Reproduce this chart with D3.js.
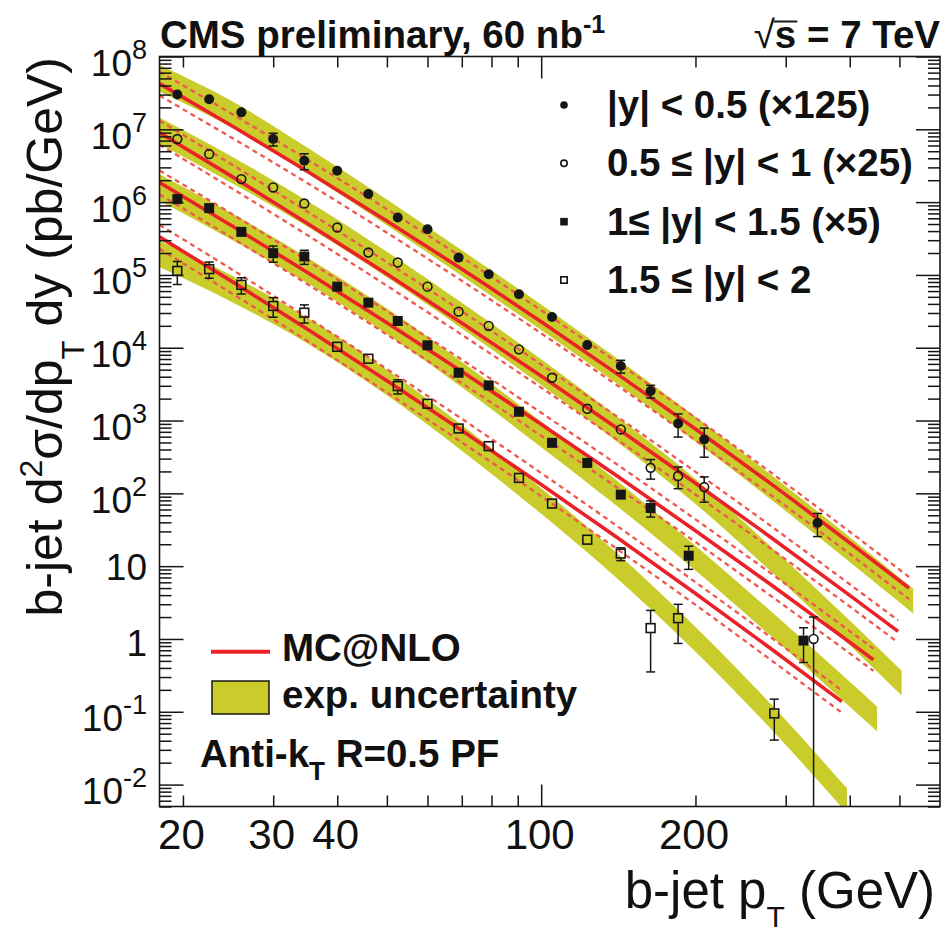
<!DOCTYPE html>
<html><head><meta charset="utf-8">
<script src="https://cdn.jsdelivr.net/npm/d3@7"></script>
<style>
body{margin:0;background:#fff}
svg{display:block}
text{font-family:"Liberation Sans",Arial,Helvetica,sans-serif;fill:#111}
</style>
</head><body>
<svg id="chart" width="945" height="935"></svg>
<script>
// ---------------- data ----------------
// |y| < 0.5 (x125) : filled circles
const pt1  = [19.5, 22.5, 26, 30, 34.5, 40, 46, 52.5, 60, 69, 79, 90.5, 105, 123, 143, 163.5, 185, 208, 346];
const val1 = [3.0e7, 2.58e7, 1.71e7, 7.36e6, 3.7e6, 2.7e6, 1.29e6, 6.14e5, 4.25e5, 1.73e5, 1.02e5, 5.43e4, 2.64e4, 1.09e4, 5.6e3, 2.54e3, 912, 550, 39.2];
const err1 = [0.06, 0.06, 0.08, 0.2, 0.25, 0.08, 0.08, 0.08, 0.08, 0.1, 0.1, 0.1, 0.1, 0.12, 0.2, 0.2, 0.35, 0.43, 0.35];
// 0.5 <= |y| < 1 (x25) : open circles
const pt2  = [19.5, 22.5, 26, 30, 34.5, 40, 46, 52.5, 60, 69, 79, 90.5, 105, 123, 143, 163.5, 185, 208, 340];
const val2 = [7.36e6, 4.57e6, 2.07e6, 1.59e6, 9.57e5, 4.48e5, 2.03e5, 1.48e5, 6.9e4, 3.13e4, 1.99e4, 9.5e3, 3.87e3, 1.45e3, 755, 224, 173, 122, 1.0];
const err2 = [0.06, 0.06, 0.12, 0.15, 0.08, 0.08, 0.08, 0.08, 0.08, 0.1, 0.1, 0.1, 0.1, 0.12, 0.12, 0.3, 0.33, 0.38, 1.0];
// 1 <= |y| < 1.5 (x5) : filled squares
const pt3  = [19.5, 22.5, 26, 30, 34.5, 40, 46, 52.5, 60, 69, 79, 90.5, 105, 123, 143, 163.5, 194, 325];
const val3 = [1.10e6, 8.27e5, 3.9e5, 1.99e5, 1.79e5, 6.9e4, 4.16e4, 2.33e4, 1.08e4, 4.53e3, 3.04e3, 1.32e3, 494, 262, 96, 63, 13.9, 0.95];
const err3 = [0.08, 0.1, 0.15, 0.25, 0.22, 0.08, 0.08, 0.08, 0.08, 0.1, 0.1, 0.1, 0.1, 0.1, 0.15, 0.25, 0.35, 0.5];
// 1.5 <= |y| < 2 : open squares
const pt4  = [19.5, 22.5, 26, 30, 34.5, 40, 46, 52.5, 60, 69, 79, 90.5, 105, 123, 143, 163.5, 185, 285];
const val4 = [1.135e5, 1.2e5, 7.3e4, 3.75e4, 3.03e4, 1.03e4, 7.06e3, 2.97e3, 1.70e3, 778, 445, 163, 72.4, 23.1, 14.9, 1.41, 1.93, 0.095];
const err4 = [0.35, 0.25, 0.25, 0.3, 0.28, 0.08, 0.1, 0.22, 0.1, 0.1, 0.12, 0.1, 0.1, 0.15, 0.2, 0.75, 0.55, 0.57];

// MC@NLO prediction (solid red), per rapidity bin
const mcPt1 = [18, 25, 35, 50, 70, 100, 140, 200, 280, 400, 522];
const mc1   = [4.24e7, 1.10e7, 2.64e6, 5.52e5, 1.205e5, 2.27e4, 4.48e3, 764, 137, 20.9, 5.0];
const mcPt2 = [18, 25, 35, 50, 70, 100, 140, 200, 280, 400, 497];
const mc2   = [8.97e6, 2.22e6, 5.09e5, 1.03e5, 2.19e4, 4.08e3, 805, 138, 25.2, 3.97, 1.27];
const mcPt3 = [18, 25, 35, 50, 70, 100, 140, 200, 280, 400, 445];
const mc3   = [1.86e6, 4.65e5, 1.08e5, 2.20e4, 4.73e3, 889, 177, 30.7, 5.65, 0.90, 0.518];
const mcPt4 = [18, 25, 35, 50, 70, 100, 140, 200, 280, 386];
const mc4   = [3.33e5, 8.02e4, 1.79e4, 3.52e3, 728, 132, 25.3, 4.21, 0.745, 0.138];
// MC@NLO uncertainty (dashed red), relative
const mcUnc = [0.46, 0.46, 0.45, 0.45, 0.45, 0.44, 0.44, 0.43, 0.43, 0.42, 0.42];

// experimental uncertainty band (centre + relative width)
const bandPt1 = [18, 25, 35, 50, 70, 100, 140, 200, 280, 400, 532];
const band1   = [5.01e7, 1.585e7, 3.72e6, 7.24e5, 1.45e5, 2.62e4, 4.88e3, 764, 124, 16.9, 3.32];
const bandPt2 = [18, 25, 35, 50, 70, 100, 140, 200, 280, 400, 505];
const band2   = [9.55e6, 2.74e6, 6.90e5, 1.39e5, 2.76e4, 4.63e3, 780, 106, 12.7, 1.21, 0.248];
const bandPt3 = [18, 25, 35, 50, 70, 100, 140, 200, 280, 400, 452];
const band3   = [1.585e6, 4.55e5, 1.15e5, 2.30e4, 4.29e3, 647, 102, 12.9, 1.65, 0.174, 0.080];
const bandPt4 = [18, 25, 35, 50, 70, 100, 140, 200, 280, 395];
const band4   = [1.95e5, 6.38e4, 1.72e4, 3.33e3, 578, 78.5, 10.4, 0.99, 0.0877, 0.0060];
const expUnc  = [0.52, 0.52, 0.50, 0.50, 0.50, 0.50, 0.49, 0.48, 0.48, 0.48, 0.48];

const legendLabels = ["|y| < 0.5 (\u00d7125)", "0.5 \u2264 |y| < 1 (\u00d725)", "1\u2264 |y| < 1.5 (\u00d75)", "1.5 \u2264 |y| < 2"];
const xTickLabels = [20, 30, 40, 100, 200];
const yDecades = [-2, -1, 0, 1, 2, 3, 4, 5, 6, 7, 8];

// ---------------- layout ----------------
const L = 159.5, R = 940, T = 56.5, B = 806.5;
const BAND = "#c9cc2a", RED = "#ea2228", DASH = "#f0574e", INK = "#161616";

const svg = d3.select("#chart");
const x = d3.scaleLog().domain([18, 600]).range([L, R]);
const y = d3.scaleLog().domain([0.005, 1e8]).range([B, T]);

svg.append("defs").append("clipPath").attr("id", "plotclip")
  .append("rect").attr("x", L).attr("y", T).attr("width", R - L).attr("height", B - T);
const plot = svg.append("g").attr("clip-path", "url(#plotclip)");

const series = [
  {pt: pt1, val: val1, err: err1, mark: "fc", mcPt: mcPt1, mc: mc1, bPt: bandPt1, band: band1},
  {pt: pt2, val: val2, err: err2, mark: "oc", mcPt: mcPt2, mc: mc2, bPt: bandPt2, band: band2},
  {pt: pt3, val: val3, err: err3, mark: "fs", mcPt: mcPt3, mc: mc3, bPt: bandPt3, band: band3},
  {pt: pt4, val: val4, err: err4, mark: "os", mcPt: mcPt4, mc: mc4, bPt: bandPt4, band: band4}
];

const area = d3.area()
  .x(d => x(d.p)).y0(d => y(d.v / (1 + d.u))).y1(d => y(d.v * (1 + d.u)))
  .curve(d3.curveMonotoneX);
const line = d3.line().x(d => x(d.p)).y(d => y(d.v)).curve(d3.curveMonotoneX);

// bands
series.forEach(s => {
  const pts = s.bPt.map((p, i) => ({p, v: s.band[i], u: expUnc[i]}));
  plot.append("path").attr("d", area(pts)).attr("fill", BAND).attr("stroke", "none");
});
// dashed theory uncertainty
series.forEach(s => {
  const up = s.mcPt.map((p, i) => ({p, v: s.mc[i] * (1 + mcUnc[i])}));
  const dn = s.mcPt.map((p, i) => ({p, v: s.mc[i] / (1 + mcUnc[i])}));
  [up, dn].forEach(a => plot.append("path").attr("d", line(a)).attr("fill", "none")
    .attr("stroke", DASH).attr("stroke-width", 2.3).attr("stroke-dasharray", "5,4"));
});
// central MC@NLO
series.forEach(s => {
  const c = s.mcPt.map((p, i) => ({p, v: s.mc[i]}));
  plot.append("path").attr("d", line(c)).attr("fill", "none")
    .attr("stroke", RED).attr("stroke-width", 3.6);
});

// markers
function marker(g, type, cx, cy, r) {
  if (type === "fc") g.append("circle").attr("cx", cx).attr("cy", cy).attr("r", r).attr("fill", INK);
  else if (type === "oc") g.append("circle").attr("cx", cx).attr("cy", cy).attr("r", r - 0.6)
    .attr("fill", "none").attr("stroke", INK).attr("stroke-width", 1.6);
  else if (type === "fs") g.append("rect").attr("x", cx - r).attr("y", cy - r).attr("width", 2 * r).attr("height", 2 * r).attr("fill", INK);
  else g.append("rect").attr("x", cx - r + 0.6).attr("y", cy - r + 0.6).attr("width", 2 * r - 1.2).attr("height", 2 * r - 1.2)
    .attr("fill", "none").attr("stroke", INK).attr("stroke-width", 1.6);
}

const pg = plot.append("g");
series.forEach(s => {
  s.pt.forEach((p, i) => {
    const v = s.val[i], e = s.err[i];
    const cx = x(p), cy = y(v), r = 5;
    const yh = y(v * (1 + e));
    const lo = v * (1 - e);
    const yl = lo > 0 ? y(lo) : B + 10;
    if (yh < cy - r - 0.5) {
      pg.append("line").attr("x1", cx).attr("x2", cx).attr("y1", yh).attr("y2", cy - r).attr("stroke", INK).attr("stroke-width", 1.5);
      pg.append("line").attr("x1", cx - 4.5).attr("x2", cx + 4.5).attr("y1", yh).attr("y2", yh).attr("stroke", INK).attr("stroke-width", 1.5);
    }
    if (yl > cy + r + 0.5) {
      pg.append("line").attr("x1", cx).attr("x2", cx).attr("y1", cy + r).attr("y2", yl).attr("stroke", INK).attr("stroke-width", 1.5);
      if (lo > 0) pg.append("line").attr("x1", cx - 4.5).attr("x2", cx + 4.5).attr("y1", yl).attr("y2", yl).attr("stroke", INK).attr("stroke-width", 1.5);
    }
    marker(pg, s.mark, cx, cy, r);
  });
});

// ---------------- axes ----------------
const xMajor = [100];
const xMinor = [20, 30, 40, 50, 60, 70, 80, 90, 200, 300, 400, 500];
const yMajor = yDecades.map(d => Math.pow(10, d));
const yMinor = [];
for (let d = -3; d <= 7; d++) for (let k = 2; k <= 9; k++) {
  const v = k * Math.pow(10, d);
  if (v >= 0.005 && v <= 1e8) yMinor.push(v);
}
function ax(gen, vals, size, tx, ty) {
  const g = svg.append("g").attr("transform", `translate(${tx},${ty})`)
    .call(gen.tickValues(vals).tickSize(size).tickFormat(""));
  g.select(".domain").remove();
  g.selectAll(".tick line").attr("stroke", INK).attr("stroke-width", 1.5);
}
ax(d3.axisBottom(x), xMinor, -11, 0, B);
ax(d3.axisBottom(x), xMajor, -22, 0, B);
ax(d3.axisTop(x), xMinor, -11, 0, T);
ax(d3.axisTop(x), xMajor, -22, 0, T);
ax(d3.axisLeft(y), yMinor, -12, L, 0);
ax(d3.axisLeft(y), yMajor, -24, L, 0);
ax(d3.axisRight(y), yMinor, -12, R, 0);
ax(d3.axisRight(y), yMajor, -24, R, 0);

svg.append("rect").attr("x", L).attr("y", T).attr("width", R - L).attr("height", B - T)
  .attr("fill", "none").attr("stroke", INK).attr("stroke-width", 1.6);

// x tick labels
svg.append("g").selectAll("text").data(xTickLabels).join("text")
  .attr("x", d => x(d) - 1.5).attr("y", 849).attr("text-anchor", "middle")
  .attr("font-size", 42).text(d => d);

// y tick labels
yDecades.forEach(d => {
  const t = svg.append("text").attr("x", 147).attr("text-anchor", "end").attr("font-size", 37);
  const ty = y(Math.pow(10, d));
  if (d === 0) { t.attr("y", ty + 17).text("1"); }
  else if (d === 1) { t.attr("y", ty + 14).text("10"); }
  else {
    t.attr("y", ty + 19.5);
    t.append("tspan").text("10");
    t.append("tspan").attr("font-size", 27).attr("dy", -17).text(String(d));
  }
});

// axis titles
const xt = svg.append("text").attr("x", 935).attr("y", 908).attr("text-anchor", "end").attr("font-size", 51);
xt.append("tspan").text("b-jet p");
xt.append("tspan").attr("font-size", 30).attr("dy", 19).text("T");
xt.append("tspan").attr("dy", -19).text(" (GeV)");

const yt = svg.append("text").attr("transform", "translate(62,57) rotate(-90)")
  .attr("text-anchor", "end").attr("font-size", 50);
yt.append("tspan").text("b-jet d");
yt.append("tspan").attr("font-size", 32).attr("dy", -20).text("2");
yt.append("tspan").attr("dy", 20).text("\u03c3/dp");
yt.append("tspan").attr("font-size", 31).attr("dy", 22).text("T");
yt.append("tspan").attr("dy", -22).text(" dy (pb/GeV)");

// header texts
const h1 = svg.append("text").attr("x", 160).attr("y", 48).attr("font-size", 38.5).attr("font-weight", "bold");
h1.append("tspan").text("CMS preliminary, 60 nb");
h1.append("tspan").attr("font-size", 25).attr("dy", -15).text("-1");

const h2 = svg.append("text").attr("x", 940).attr("y", 48).attr("text-anchor", "end").attr("font-size", 38.5);
h2.append("tspan").text("\u221a");
h2.append("tspan").attr("font-weight", "bold").text("s = 7 TeV");
{
  const n = h2.node();
  const s0 = n.getStartPositionOfChar(1).x, s1 = n.getEndPositionOfChar(1).x;
  svg.append("line").attr("x1", s0 - 1).attr("x2", s1 + 1).attr("y1", 21.5).attr("y2", 21.5)
    .attr("stroke", INK).attr("stroke-width", 2);
}

// legend top right
const legY = [105, 163.3, 221.7, 280];
const legMarks = ["fc", "oc", "fs", "os"];
legY.forEach((ly, i) => {
  marker(svg, legMarks[i], 564, ly, 3.8);
  svg.append("text").attr("x", 607).attr("y", ly + 13).attr("font-size", 38.5)
    .attr("font-weight", "bold").text(legendLabels[i]);
});

// legend bottom left
svg.append("line").attr("x1", 211).attr("x2", 270).attr("y1", 651.7).attr("y2", 651.7)
  .attr("stroke", RED).attr("stroke-width", 4);
svg.append("text").attr("x", 282).attr("y", 661).attr("font-size", 38.5).attr("font-weight", "bold").text("MC@NLO");
svg.append("rect").attr("x", 212).attr("y", 681).attr("width", 57).attr("height", 33)
  .attr("fill", BAND).attr("stroke", INK).attr("stroke-width", 1.5);
svg.append("text").attr("x", 282).attr("y", 708).attr("font-size", 38.5).attr("font-weight", "bold").text("exp. uncertainty");
const ak = svg.append("text").attr("x", 200).attr("y", 766.7).attr("font-size", 38.5).attr("font-weight", "bold");
ak.append("tspan").text("Anti-k");
ak.append("tspan").attr("font-size", 26).attr("dy", 13).text("T");
ak.append("tspan").attr("dy", -13).text(" R=0.5 PF");
</script>
</body></html>
